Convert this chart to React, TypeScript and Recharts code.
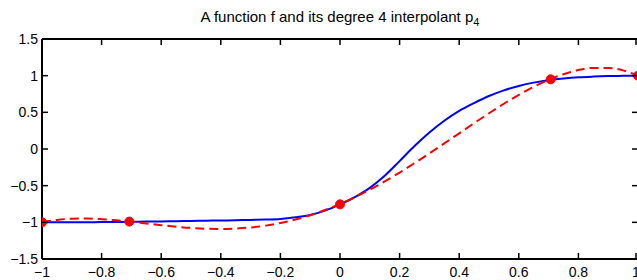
import { ComposedChart, Line, XAxis, YAxis } from 'recharts';

// sample points along [-1, 1]
const xs = [
  -1, -0.95, -0.9, -0.85, -0.8, -0.75, -0.7, -0.65, -0.6, -0.55, -0.5,
  -0.45, -0.4, -0.35, -0.3, -0.25, -0.2, -0.15, -0.1, -0.05, 0,
  0.05, 0.1, 0.15, 0.2, 0.25, 0.3, 0.35, 0.4, 0.45, 0.5,
  0.55, 0.6, 0.65, 0.7, 0.75, 0.8, 0.85, 0.9, 0.95, 1
];

// f (solid blue)
const fValues = [
  -1, -1, -0.999, -0.998, -0.997, -0.995, -0.993, -0.99, -0.987, -0.984, -0.981,
  -0.978, -0.975, -0.971, -0.967, -0.962, -0.954, -0.932, -0.9, -0.84, -0.755,
  -0.655, -0.53, -0.365, -0.165, 0.04, 0.225, 0.385, 0.52, 0.627, 0.723,
  0.8, 0.86, 0.905, 0.937, 0.96, 0.977, 0.987, 0.994, 0.998, 1
];

// p4 (dashed red)
const pValues = [
  -1, -0.967, -0.951, -0.948, -0.957, -0.973, -0.993, -1.016, -1.039, -1.059, -1.076,
  -1.087, -1.09, -1.085, -1.07, -1.045, -1.009, -0.962, -0.903, -0.832, -0.75,
  -0.657, -0.554, -0.442, -0.321, -0.193, -0.06, 0.076, 0.214, 0.352, 0.487,
  0.617, 0.738, 0.848, 0.943, 1.02, 1.076, 1.106, 1.106, 1.072, 1
];

// interpolation nodes
const nodeX = [-1, -0.7071, 0, 0.7071, 1];
const nodeY = [-1, -0.99, -0.755, 0.95, 1];

const xTicks = [-1, -0.8, -0.6, -0.4, -0.2, 0, 0.2, 0.4, 0.6, 0.8, 1];
const yTicks = [-1.5, -1, -0.5, 0, 0.5, 1, 1.5];

const fData = xs.map((x, i) => ({ x, y: fValues[i] }));
const pData = xs.map((x, i) => ({ x, y: pValues[i] }));
const nodes = nodeX.map((x, i) => ({ x, y: nodeY[i] }));

const font = '"Liberation Sans", Arial, sans-serif';
const fmt = (v: number) => String(v).replace('-', '\u2212');
const axisStyle = { stroke: '#000', strokeWidth: 2 };
const TL = 6; // inward tick length
const PLOT_TOP = 39; // margin.top + top axis height
const PLOT_RIGHT = 638; // chart width - margin.right - right axis width

// ticks point into the plot on all four sides, MATLAB style
const BottomTick = (props: any) => {
  const { x, y, payload } = props;
  return (
    <g>
      <path d={`M${x},${y - 8}v${-TL}`} stroke='#000' strokeWidth={1.5} fill='none' />
      <path d={`M${x},${PLOT_TOP}v${TL}`} stroke='#000' strokeWidth={1.5} fill='none' />
      <text x={x} y={y} dy='0.71em' textAnchor='middle' fontFamily={font} fontSize={14} fill='#000'>
        {fmt(payload.value)}
      </text>
    </g>
  );
};

const LeftTick = (props: any) => {
  const { x, y, payload } = props;
  return (
    <g>
      <path d={`M${x + 4},${y}h${TL}`} stroke='#000' strokeWidth={1.5} fill='none' />
      <path d={`M${PLOT_RIGHT},${y}h${-TL}`} stroke='#000' strokeWidth={1.5} fill='none' />
      <text x={x} y={y} dy='0.355em' textAnchor='end' fontFamily={font} fontSize={14} fill='#000'>
        {fmt(payload.value)}
      </text>
    </g>
  );
};

export default function App() {
  return (
    <div style={{ position: 'absolute', left: 0, top: 0, width: 637, height: 280, overflow: 'hidden', background: '#fff' }}>
      <svg width={637} height={30} style={{ position: 'absolute', left: 0, top: 0 }}>
        <text x={340} y={21.5} textAnchor='middle' fontFamily={font} fontSize={15} fill='#000'>
          A function f and its degree 4 interpolant p
          <tspan dy={4} fontSize={11}>4</tspan>
        </text>
      </svg>
      <ComposedChart width={640} height={280} margin={{ top: 38, right: 1, left: 0, bottom: 0 }}>
        <XAxis
          dataKey='x'
          type='number'
          domain={[-1, 1]}
          ticks={xTicks}
          height={21}
          tickSize={0}
          tickMargin={8}
          axisLine={axisStyle}
          tickLine={false}
          tick={BottomTick}
          allowDataOverflow
        />
        <XAxis
          xAxisId='top'
          orientation='top'
          dataKey='x'
          type='number'
          domain={[-1, 1]}
          ticks={xTicks}
          height={1}
          axisLine={axisStyle}
          tickLine={false}
          tick={false}
        />
        <YAxis
          type='number'
          domain={[-1.5, 1.5]}
          ticks={yTicks}
          width={42}
          tickSize={0}
          tickMargin={4}
          axisLine={axisStyle}
          tickLine={false}
          tick={LeftTick}
          allowDataOverflow
        />
        <YAxis
          yAxisId='right'
          orientation='right'
          type='number'
          domain={[-1.5, 1.5]}
          ticks={yTicks}
          width={1}
          axisLine={axisStyle}
          tickLine={false}
          tick={false}
        />
        <Line
          data={fData}
          dataKey='y'
          type='monotone'
          stroke='#0000ff'
          strokeWidth={2}
          dot={false}
          isAnimationActive={false}
        />
        <Line
          data={pData}
          dataKey='y'
          type='monotone'
          stroke='#ff0000'
          strokeWidth={2}
          strokeDasharray='9 5'
          dot={false}
          isAnimationActive={false}
        />
        <Line
          data={nodes}
          dataKey='y'
          stroke='none'
          dot={{ r: 4.5, fill: '#ff0000', stroke: '#ff0000', strokeWidth: 1 }}
          isAnimationActive={false}
        />
      </ComposedChart>
    </div>
  );
}
